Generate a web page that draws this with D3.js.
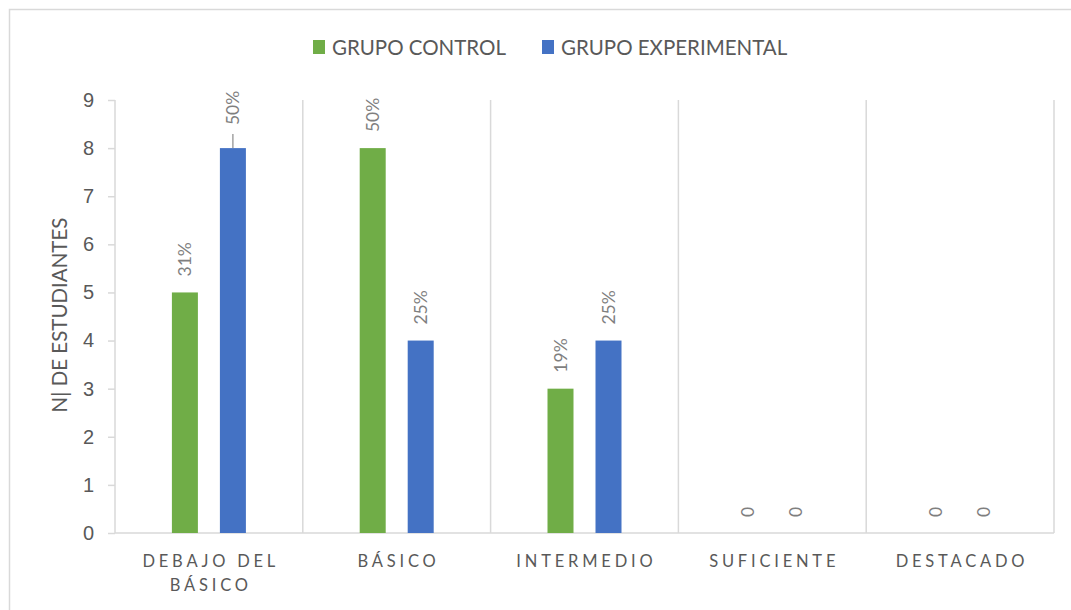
<!DOCTYPE html>
<html>
<head>
<meta charset="utf-8">
<script src="https://cdn.jsdelivr.net/npm/d3@7"></script>
<style>
  html, body { margin: 0; padding: 0; background: #fff; }
  svg { display: block; font-family: Lato, "Open Sans", sans-serif; }
</style>
</head>
<body>
<svg id="chart" width="1071" height="610"></svg>
<script>
// Performance levels and student counts per group
const categories = [["DEBAJO DEL", "BÁSICO"], ["BÁSICO"], ["INTERMEDIO"], ["SUFICIENTE"], ["DESTACADO"]];
const seriesNames = ["GRUPO CONTROL", "GRUPO EXPERIMENTAL"];
const controlValues = [5, 8, 3, 0, 0];
const experimentalValues = [8, 4, 4, 0, 0];
const yTicks = [0, 1, 2, 3, 4, 5, 6, 7, 8, 9];
const colors = ["#70ad47", "#4472c4"];

const series = [controlValues, experimentalValues];
const totals = series.map(s => d3.sum(s));

const svg = d3.select("#chart");
const W = 1071, H = 610;
const m = { left: 115, right: 1054, top: 100, bottom: 533 };

// chart frame
svg.append("rect")
  .attr("x", 9.5).attr("y", 9.5)
  .attr("width", W + 20).attr("height", H + 20)
  .attr("fill", "none").attr("stroke", "#d9d9d9").attr("stroke-width", 1.5);

const x = d3.scaleBand().domain(d3.range(categories.length)).range([m.left, m.right]);
const y = d3.scaleLinear().domain([0, 9]).range([m.bottom, m.top]);
const barW = 26, barOffset = 24;

// vertical separators between categories
const bounds = d3.range(categories.length + 1).map(i => m.left + i * x.bandwidth());
svg.append("g").selectAll("line").data(bounds).join("line")
  .attr("x1", d => d).attr("x2", d => d)
  .attr("y1", m.top).attr("y2", m.bottom)
  .attr("stroke", "#d9d9d9").attr("stroke-width", 1.5);

// y axis
const yAxis = svg.append("g")
  .attr("transform", `translate(${m.left},0)`)
  .call(d3.axisLeft(y).tickValues(yTicks).tickSize(7).tickPadding(14).tickFormat(d3.format("d")));
yAxis.select(".domain").remove();
yAxis.selectAll("line").attr("stroke", "#d9d9d9").attr("stroke-width", 1.5);
yAxis.selectAll("text").attr("fill", "#595959").attr("font-size", 20);

// x axis baseline
svg.append("line")
  .attr("x1", m.left).attr("x2", m.right)
  .attr("y1", m.bottom).attr("y2", m.bottom)
  .attr("stroke", "#d9d9d9").attr("stroke-width", 1.5);

// category labels
const catG = svg.append("g");
categories.forEach((lines, i) => {
  const cx = x(i) + x.bandwidth() / 2;
  const t = catG.append("text")
    .attr("text-anchor", "middle")
    .attr("fill", "#595959").attr("font-size", 16.5)
    .attr("letter-spacing", "3.8px");
  lines.forEach((ln, j) => {
    t.append("tspan").attr("x", cx + 1.9).attr("y", 567 + j * 24).text(ln);
  });
});

// y axis title
svg.append("text")
  .attr("transform", "translate(67,315) rotate(-90)")
  .attr("text-anchor", "middle")
  .attr("fill", "#595959").attr("font-size", 20.5)
  .text("N| DE ESTUDIANTES");

// bars and data labels
const fmtPct = d3.format(".0%");
series.forEach((vals, si) => {
  const g = svg.append("g");
  const cxOf = i => x(i) + x.bandwidth() / 2 + (si === 0 ? -barOffset : barOffset);
  g.selectAll("rect").data(vals).join("rect")
    .attr("x", (d, i) => cxOf(i) - barW / 2)
    .attr("y", d => y(d))
    .attr("width", barW)
    .attr("height", d => y(0) - y(d))
    .attr("fill", colors[si]);

  vals.forEach((v, i) => {
    const label = v === 0 ? "0" : fmtPct(v / totals[si]);
    let endY = y(v) - 16;
    // the tallest experimental bar has its label lifted with a leader line
    if (si === 1 && v === d3.max(vals)) {
      endY = y(v) - 23;
      g.append("line")
        .attr("x1", cxOf(i)).attr("x2", cxOf(i))
        .attr("y1", y(v) - 14).attr("y2", y(v))
        .attr("stroke", "#8c8c8c").attr("stroke-width", 1.2);
    }
    g.append("text")
      .attr("transform", `translate(${cxOf(i) + 6},${endY}) rotate(-90)`)
      .attr("text-anchor", "start")
      .attr("fill", "#7f7f7f").attr("font-size", 17.5)
      .text(label);
  });
});

// legend
const legend = svg.append("g");
const legendX = [313, 542];
seriesNames.forEach((name, i) => {
  legend.append("rect")
    .attr("x", legendX[i]).attr("y", 40).attr("width", 12).attr("height", 14)
    .attr("fill", colors[i]);
  legend.append("text")
    .attr("x", legendX[i] + 19).attr("y", 54.5)
    .attr("fill", "#595959").attr("font-size", 20.5)
    .text(name);
});
</script>
</body>
</html>
